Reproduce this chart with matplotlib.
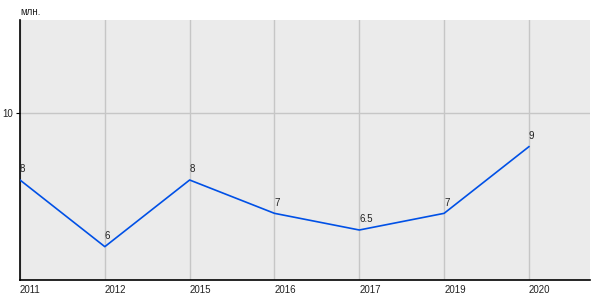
import matplotlib
matplotlib.use("Agg")
import matplotlib.pyplot as plt

years = ["2011", "2012", "2015", "2016", "2017", "2019", "2020"]
values = [8, 6, 8, 7, 6.5, 7, 9]
labels = ["8", "6", "8", "7", "6.5", "7", "9"]
yticks = [10]
unit = "млн."

plt.rcParams['font.family'] = ['Liberation Sans', 'DejaVu Sans']

fig = plt.figure(figsize=(6, 3), dpi=100)
ax = fig.add_axes([20/600, 20/300, 570/600, 260/300])
ax.set_facecolor("#EBEBEB")
x = list(range(len(years)))
ax.plot(x, values, color="#0050E6", lw=1.2, zorder=3)
for xi, v, lb in zip(x, values, labels):
    ax.annotate(lb, (xi, v), xytext=(0, 4), textcoords="offset points",
                ha="left", va="bottom", fontsize=7, color="#222222", zorder=4)

ax.set_xlim(0, 6.72)
ax.set_ylim(5, 12.8)
ax.set_xticks(x)
ax.set_xticklabels(years, ha="left", fontsize=7, color="#222222")
ax.set_yticks(yticks)
ax.set_yticklabels([str(t) for t in yticks], fontsize=7, color="#222222")
ax.tick_params(axis="x", length=0, pad=3.5)
ax.tick_params(axis="y", length=3, width=0.8, pad=2)
ax.grid(True, color="#C6C6C6", lw=1.0, zorder=0)
ax.set_axisbelow(True)
for s in ["top", "right"]:
    ax.spines[s].set_visible(False)
for s in ["left", "bottom"]:
    ax.spines[s].set_color("black")
    ax.spines[s].set_linewidth(1.2)
fig.text(20/600, 1 - 12/300, unit, fontsize=7, color="#222222", ha="left", va="center")
fig.savefig("out.png", dpi=100)
